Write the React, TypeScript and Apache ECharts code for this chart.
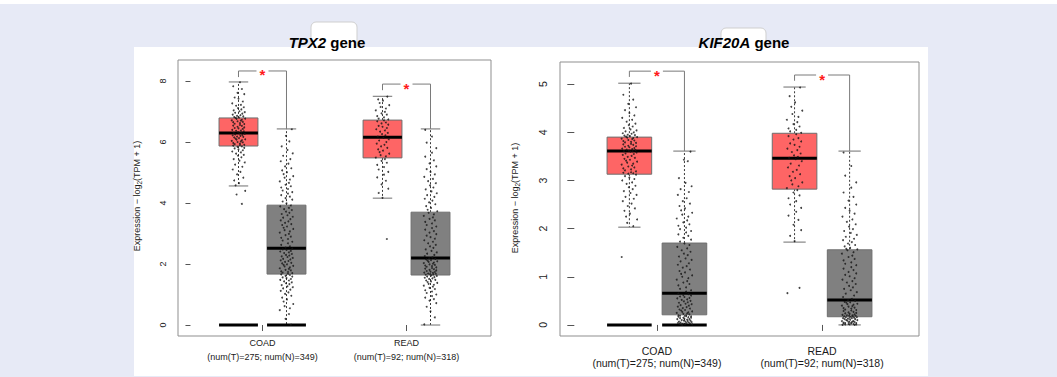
import React, { useEffect, useRef } from "react";
import * as echarts from "echarts";

// ---------- data ----------
const CATEGORIES = ["COAD", "READ"];
const SAMPLE_LABELS = ["(num(T)=275; num(N)=349)", "(num(T)=92; num(N)=318)"];
const CATEGORY_POS = [1.5, 4.5];
// COAD tumor, COAD normal, READ tumor, READ normal
const GROUP_POS = [1, 2, 4, 5];
const GROUP_TYPE = [0, 1, 0, 1];
const GENES = ["TPX2", "KIF20A"];
const Y_TITLE = ["Expression \u2212 log", "2", "(TPM + 1)"];

const TPX2_TICKS = [0, 2, 4, 6, 8];
const KIF20A_TICKS = [0, 1, 2, 3, 4, 5];

// [whisker low, Q1, median, Q3, whisker high]
const TPX2_STATS = [
  [4.56, 5.87, 6.3, 6.79, 7.97],
  [0, 1.67, 2.52, 3.93, 6.43],
  [4.16, 5.48, 6.16, 6.72, 7.5],
  [0, 1.64, 2.2, 3.7, 6.43],
];
const KIF20A_STATS = [
  [2.03, 3.13, 3.61, 3.9, 5.02],
  [0, 0.21, 0.66, 1.7, 3.61],
  [1.72, 2.82, 3.46, 3.98, 4.94],
  [0, 0.17, 0.52, 1.56, 3.61],
];
// thick bar at zero
const TPX2_ZERO = [1, 1, 0, 0];
const KIF20A_ZERO = [1, 1, 0, 0];

// [x tumor, x normal, bracket y, left end y, right end y]
const TPX2_BRACKETS = [
  [1, 2, 8.33, 8.13, 6.43],
  [4, 5, 7.9, 7.7, 6.43],
];
const KIF20A_BRACKETS = [
  [1, 2, 5.27, 5.15, 3.61],
  [4, 5, 5.19, 5.07, 3.61],
];

// horizontal jitter offsets (category units)
const JITTER = [0.03, -0.11, 0.07, -0.02, 0.12, -0.08, 0.0, 0.09, -0.13, 0.05, -0.05, 0.11, -0.01, 0.06, -0.1, 0.02, 0.13, -0.07, 0.08, -0.12, 0.04, -0.03, 0.1, -0.09, 0.01, -0.06, 0.14, -0.04, 0.07, -0.14, 0.05, -0.02, 0.09, -0.11, 0.03, -0.08, 0.12];

const TPX2_COAD_T = [7.96, 7.83, 7.74, 7.61, 7.57, 7.46, 7.42, 7.33, 7.27, 7.22, 7.19, 7.14, 7.11, 7.07, 7.04, 7.01, 6.98, 6.96, 6.93, 6.9, 6.88, 6.86, 6.84, 6.82, 6.8,
  6.79, 6.77, 6.76, 6.73, 6.71, 6.7, 6.68, 6.66, 6.65, 6.62, 6.6, 6.59, 6.56, 6.54, 6.53, 6.5, 6.48, 6.46, 6.45, 6.43, 6.4, 6.38, 6.37, 6.35, 6.33, 6.31,
  6.3, 6.28, 6.27, 6.25, 6.23, 6.22, 6.2, 6.18, 6.17, 6.15, 6.13, 6.11, 6.09, 6.08, 6.06, 6.04, 6.02, 6.0, 5.99, 5.97, 5.95, 5.93, 5.91, 5.9, 5.88,
  5.86, 5.84, 5.81, 5.79, 5.76, 5.73, 5.69, 5.66, 5.62, 5.58, 5.55, 5.5, 5.44, 5.39, 5.33, 5.26, 5.19, 5.1, 5.02, 4.94, 4.83, 4.74, 4.65, 4.58, 4.4, 4.28, 3.97];
const TPX2_COAD_N = [6.42, 6.2, 6.02, 5.86, 5.74, 5.63, 5.55, 5.44, 5.37, 5.29, 5.2, 5.14, 5.07, 5.01, 4.95, 4.88, 4.83, 4.77, 4.71, 4.66, 4.6, 4.55, 4.51, 4.46, 4.41, 4.36, 4.31, 4.26, 4.21, 4.16, 4.11, 4.05, 3.99,
  3.92, 3.89, 3.84, 3.8, 3.77, 3.72, 3.68, 3.64, 3.6, 3.55, 3.52, 3.47, 3.43, 3.4, 3.35, 3.31, 3.28, 3.23, 3.19, 3.15, 3.11, 3.07, 3.03, 2.99, 2.95, 2.9, 2.86, 2.82, 2.77, 2.73, 2.68, 2.63, 2.58, 2.54,
  2.51, 2.48, 2.46, 2.43, 2.41, 2.38, 2.36, 2.33, 2.3, 2.28, 2.25, 2.23, 2.2, 2.17, 2.15, 2.12, 2.1, 2.07, 2.04, 2.02, 1.99, 1.97, 1.94, 1.92, 1.89, 1.86, 1.84, 1.81, 1.79, 1.76, 1.74, 1.72, 1.7, 1.68,
  1.66, 1.64, 1.61, 1.59, 1.56, 1.54, 1.51, 1.48, 1.46, 1.43, 1.4, 1.37, 1.34, 1.31, 1.27, 1.24, 1.2, 1.16, 1.12, 1.07, 1.02, 0.96, 0.9, 0.84, 0.77, 0.69, 0.62, 0.55, 0.49, 0.36, 0.2, 0.01];
const TPX2_READ_T = [7.49, 7.4, 7.36, 7.28, 7.21, 7.15, 7.1, 7.04, 6.99, 6.94, 6.9, 6.85, 6.81, 6.77, 6.74,
  6.71, 6.68, 6.64, 6.61, 6.57, 6.53, 6.5, 6.46, 6.42, 6.38, 6.34, 6.3, 6.26, 6.22, 6.18,
  6.14, 6.09, 6.05, 6.0, 5.95, 5.91, 5.86, 5.81, 5.76, 5.72, 5.67, 5.62, 5.57, 5.53, 5.49,
  5.44, 5.38, 5.32, 5.25, 5.18, 5.1, 5.02, 4.93, 4.84, 4.73, 4.61, 4.47, 4.33, 4.17, 2.82];
const TPX2_READ_N = [6.4, 6.18, 5.98, 5.8, 5.65, 5.52, 5.4, 5.3, 5.2, 5.11, 5.02, 4.94, 4.86, 4.79, 4.72, 4.65, 4.58, 4.51, 4.45, 4.38, 4.32, 4.26, 4.2, 4.14, 4.08, 4.02, 3.96, 3.9, 3.84, 3.78, 3.73,
  3.68, 3.63, 3.58, 3.53, 3.48, 3.43, 3.38, 3.33, 3.28, 3.23, 3.18, 3.13, 3.08, 3.03, 2.98, 2.93, 2.88, 2.83, 2.78, 2.73, 2.68, 2.63, 2.58, 2.53, 2.48, 2.43, 2.38, 2.34, 2.3, 2.26, 2.22,
  2.19, 2.17, 2.15, 2.13, 2.11, 2.09, 2.07, 2.05, 2.03, 2.01, 1.99, 1.97, 1.95, 1.93, 1.91, 1.89, 1.87, 1.85, 1.83, 1.81, 1.79, 1.77, 1.75, 1.74, 1.72, 1.71, 1.69, 1.68, 1.67, 1.66, 1.65,
  1.63, 1.61, 1.59, 1.57, 1.55, 1.53, 1.51, 1.48, 1.46, 1.43, 1.41, 1.38, 1.35, 1.32, 1.29, 1.26, 1.22, 1.18, 1.14, 1.1, 1.05, 1.0, 0.95, 0.9, 0.85, 0.8, 0.72, 0.6, 0.45, 0.25, 0.02];

const KIF20A_COAD_T = [5.01, 4.78, 4.68, 4.59, 4.52, 4.46, 4.4, 4.35, 4.3, 4.26, 4.22, 4.18, 4.15, 4.12, 4.09, 4.06, 4.04, 4.02, 4.0, 3.98, 3.97, 3.95, 3.94, 3.93, 3.92, 3.91,
  3.9, 3.89, 3.88, 3.87, 3.86, 3.84, 3.83, 3.82, 3.8, 3.79, 3.78, 3.76, 3.75, 3.74, 3.72, 3.71, 3.7, 3.69, 3.67, 3.66, 3.65, 3.64, 3.63, 3.62, 3.61, 3.61,
  3.6, 3.58, 3.56, 3.55, 3.53, 3.51, 3.49, 3.47, 3.45, 3.43, 3.41, 3.39, 3.37, 3.35, 3.33, 3.31, 3.29, 3.27, 3.25, 3.23, 3.21, 3.19, 3.17, 3.16, 3.15, 3.14,
  3.12, 3.09, 3.06, 3.03, 3.0, 2.96, 2.93, 2.89, 2.86, 2.82, 2.78, 2.74, 2.7, 2.66, 2.62, 2.57, 2.52, 2.47, 2.42, 2.37, 2.31, 2.25, 2.19, 2.12, 2.05, 1.41];
const KIF20A_COAD_N = [3.6, 3.43, 3.4, 3.05, 2.95, 2.88, 2.82, 2.76, 2.7, 2.63, 2.57, 2.52, 2.47, 2.42, 2.38, 2.33, 2.29, 2.25, 2.21, 2.17, 2.13, 2.09, 2.06, 2.02, 1.99, 1.95, 1.92, 1.88, 1.85, 1.81, 1.77, 1.73,
  1.69, 1.66, 1.62, 1.59, 1.55, 1.52, 1.48, 1.45, 1.42, 1.38, 1.35, 1.32, 1.28, 1.25, 1.22, 1.19, 1.15, 1.12, 1.09, 1.06, 1.03, 1.0, 0.97, 0.94, 0.91, 0.88, 0.85, 0.82, 0.78, 0.75, 0.72, 0.69,
  0.65, 0.64, 0.62, 0.61, 0.59, 0.58, 0.56, 0.55, 0.53, 0.52, 0.5, 0.49, 0.47, 0.46, 0.44, 0.43, 0.41, 0.4, 0.38, 0.37, 0.35, 0.34, 0.32, 0.31, 0.3, 0.28, 0.27, 0.26, 0.25, 0.24, 0.23, 0.22,
  0.2, 0.2, 0.19, 0.18, 0.18, 0.17, 0.16, 0.15, 0.15, 0.14, 0.13, 0.12, 0.12, 0.11, 0.1, 0.09, 0.09, 0.08, 0.07, 0.07, 0.06, 0.05, 0.05, 0.04, 0.04, 0.03, 0.03, 0.02, 0.02, 0.01, 0.01, 0.0];
const KIF20A_READ_T = [4.93, 4.75, 4.62, 4.53, 4.45, 4.38, 4.32, 4.26, 4.21, 4.17, 4.12, 4.08, 4.05, 4.02, 3.99,
  3.96, 3.92, 3.88, 3.85, 3.81, 3.77, 3.74, 3.7, 3.66, 3.63, 3.59, 3.56, 3.52, 3.49, 3.47,
  3.44, 3.4, 3.35, 3.31, 3.27, 3.22, 3.18, 3.13, 3.09, 3.05, 3.0, 2.96, 2.92, 2.88, 2.84,
  2.8, 2.75, 2.69, 2.63, 2.57, 2.5, 2.43, 2.35, 2.27, 2.18, 2.08, 1.97, 1.85, 1.74, 0.77, 0.66];
const KIF20A_READ_N = [3.58, 3.3, 3.1, 2.96, 2.85, 2.75, 2.66, 2.58, 2.5, 2.43, 2.37, 2.31, 2.25, 2.19, 2.14, 2.09, 2.04, 1.99, 1.95, 1.91, 1.87, 1.83, 1.79, 1.76, 1.72, 1.69, 1.66, 1.63, 1.6, 1.58, 1.57,
  1.55, 1.51, 1.48, 1.44, 1.41, 1.37, 1.34, 1.3, 1.27, 1.24, 1.2, 1.17, 1.14, 1.1, 1.07, 1.04, 1.01, 0.97, 0.94, 0.91, 0.88, 0.85, 0.81, 0.78, 0.75, 0.72, 0.68, 0.65, 0.61, 0.58, 0.54,
  0.51, 0.5, 0.48, 0.47, 0.46, 0.44, 0.43, 0.42, 0.4, 0.39, 0.38, 0.36, 0.35, 0.34, 0.32, 0.31, 0.3, 0.29, 0.27, 0.26, 0.25, 0.24, 0.23, 0.22, 0.21, 0.2, 0.2, 0.19, 0.19, 0.18, 0.18,
  0.17, 0.16, 0.16, 0.15, 0.14, 0.14, 0.13, 0.12, 0.12, 0.11, 0.1, 0.1, 0.09, 0.08, 0.08, 0.07, 0.06, 0.06, 0.05, 0.05, 0.04, 0.04, 0.03, 0.03, 0.02, 0.02, 0.01, 0.01, 0.01, 0.0, 0.0];

// ---------- style ----------
const FONT = "'Liberation Sans', Arial, Helvetica, sans-serif";
const BG = "#e7eaf6";
const RED = "#fe6565";
const GRAY = "#808080";
const BOX_BORDER = "#6e6e6e";
const WHISKER = "#3a3a3a";
const CAP = "#6e6e6e";
const FRAME = "#8f8f8f";
const TICK = "#555";
const BOX_W = 0.81;
const X_MIN = -0.26;
const X_MAX = 6.26;

function buildPoints(groups: number[][]) {
  const out: number[][] = [];
  groups.forEach((vals, g) => {
    vals.forEach((v, i) => {
      out.push([GROUP_POS[g] + JITTER[(i + g * 11) % JITTER.length], v]);
    });
  });
  return out;
}

function boxSeries(stats: number[][], zero: number[], gi: number) {
  return {
    type: "custom",
    xAxisIndex: gi,
    yAxisIndex: gi,
    z: 2,
    silent: true,
    data: stats.map((s, g) => [GROUP_POS[g], s[0], s[1], s[2], s[3], s[4], GROUP_TYPE[g], zero[g]]),
    renderItem: (params: any, api: any) => {
      const x = api.value(0);
      const c = (y: number) => api.coord([x, y]);
      const pLow = c(api.value(1));
      const pQ1 = c(api.value(2));
      const pMed = c(api.value(3));
      const pQ3 = c(api.value(4));
      const pHigh = c(api.value(5));
      const normal = api.value(6);
      const zf = api.value(7);
      const w = api.size([BOX_W, 0])[0];
      const cx = pMed[0];
      const dash = { stroke: WHISKER, lineWidth: 1, lineDash: [2, 2] };
      const children: any[] = [
        { type: "line", shape: { x1: cx, y1: pQ3[1], x2: cx, y2: pHigh[1] }, style: dash },
        { type: "line", shape: { x1: cx, y1: pQ1[1], x2: cx, y2: pLow[1] }, style: dash },
        { type: "line", shape: { x1: cx - w / 4, y1: pHigh[1], x2: cx + w / 4, y2: pHigh[1] }, style: { stroke: CAP, lineWidth: 1 } },
        { type: "line", shape: { x1: cx - w / 4, y1: pLow[1], x2: cx + w / 4, y2: pLow[1] }, style: { stroke: CAP, lineWidth: 1 } },
        { type: "rect", shape: { x: cx - w / 2, y: pQ3[1], width: w, height: pQ1[1] - pQ3[1] }, style: { fill: normal ? GRAY : RED, stroke: BOX_BORDER, lineWidth: 1 } },
        { type: "line", shape: { x1: cx - w / 2, y1: pMed[1], x2: cx + w / 2, y2: pMed[1] }, style: { stroke: "#000", lineWidth: 3 } },
      ];
      if (zf) {
        const p0 = c(0);
        children.push({ type: "line", shape: { x1: cx - w / 2, y1: p0[1], x2: cx + w / 2, y2: p0[1] }, style: { stroke: "#000", lineWidth: 3 } });
      }
      return { type: "group", children };
    },
  };
}

function bracketSeries(brackets: number[][], gi: number) {
  return {
    type: "custom",
    xAxisIndex: gi,
    yAxisIndex: gi,
    z: 4,
    silent: true,
    data: brackets,
    renderItem: (params: any, api: any) => {
      const xa = api.value(0);
      const xb = api.value(1);
      const y = api.value(2);
      const pA = api.coord([xa, y]);
      const pB = api.coord([xb, y]);
      const pAe = api.coord([xa, api.value(3)]);
      const pBe = api.coord([xb, api.value(4)]);
      const mid = (pA[0] + pB[0]) / 2;
      const gap = 6;
      const ls = { stroke: "#7a7a7a", lineWidth: 1, fill: "none" };
      return {
        type: "group",
        children: [
          { type: "polyline", shape: { points: [[pAe[0], pAe[1]], [pA[0], pA[1]], [mid - gap, pA[1]]] }, style: ls },
          { type: "polyline", shape: { points: [[mid + gap, pB[1]], [pB[0], pB[1]], [pBe[0], pBe[1]]] }, style: ls },
          { type: "text", x: mid, y: pA[1] + 4, style: { text: "*", fill: "#ff1a1a", fontSize: 15, fontWeight: "bold", fontFamily: FONT, align: "center", verticalAlign: "middle" } },
        ],
      };
    },
  };
}

function xAxis(gi: number, fontSize: number, lineHeight: number, margin: number) {
  return {
    type: "value",
    gridIndex: gi,
    min: X_MIN,
    max: X_MAX,
    axisLine: { show: false },
    splitLine: { show: false },
    axisTick: { show: true, length: 6, lineStyle: { color: TICK }, customValues: CATEGORY_POS },
    axisLabel: {
      show: true,
      customValues: CATEGORY_POS,
      fontSize,
      lineHeight,
      margin,
      color: "#1a1a1a",
      fontFamily: FONT,
      formatter: (v: number) => {
        const i = CATEGORY_POS.indexOf(v);
        return i < 0 ? "" : CATEGORIES[i] + "\n" + SAMPLE_LABELS[i];
      },
    },
  };
}

function yAxis(gi: number, min: number, max: number, ticks: number[], fontSize: number, tickLen: number, margin: number) {
  return {
    type: "value",
    gridIndex: gi,
    min,
    max,
    axisLine: { show: false },
    splitLine: { show: false },
    axisTick: { show: true, length: tickLen, lineStyle: { color: TICK }, customValues: ticks },
    axisLabel: { show: true, customValues: ticks, rotate: 90, fontSize, margin, color: "#1a1a1a", fontFamily: FONT },
  };
}

function titleText(x: number, gene: string) {
  return {
    type: "text",
    x,
    y: 42,
    z: 10,
    style: {
      text: "{i|" + gene + "}{n| gene}",
      align: "center",
      verticalAlign: "middle",
      fill: "#000",
      rich: {
        i: { fontSize: 15, fontWeight: "bold", fontStyle: "italic", fontFamily: FONT, fill: "#000" },
        n: { fontSize: 15, fontWeight: "bold", fontFamily: FONT, fill: "#000" },
      },
    },
  };
}

function yName(x: number, y: number) {
  return {
    type: "text",
    x,
    y,
    rotation: Math.PI / 2,
    z: 10,
    style: {
      text: "{a|" + Y_TITLE[0] + "}{s|" + Y_TITLE[1] + "}{a|" + Y_TITLE[2] + "}",
      align: "center",
      verticalAlign: "middle",
      rich: {
        a: { fontSize: 9, lineHeight: 12, fontFamily: FONT, fill: "#1a1a1a" },
        s: { fontSize: 6.5, lineHeight: 6, verticalAlign: "bottom", fontFamily: FONT, fill: "#1a1a1a" },
      },
    },
  };
}

export default function App() {
  const ref = useRef<HTMLDivElement>(null);
  useEffect(() => {
    if (!ref.current) return;
    const chart = echarts.init(ref.current, undefined, { renderer: "svg" });
    const option: any = {
      animation: false,
      backgroundColor: BG,
      textStyle: { fontFamily: FONT },
      grid: [
        { left: 178, top: 60, width: 313, height: 276, show: true, borderColor: FRAME, borderWidth: 1, backgroundColor: "rgba(0,0,0,0)", z: 1 },
        { left: 560, top: 62, width: 359, height: 274, show: true, borderColor: FRAME, borderWidth: 1, backgroundColor: "rgba(0,0,0,0)", z: 1 },
      ],
      xAxis: [xAxis(0, 9, 14, 0), xAxis(1, 10.5, 12, 9)],
      yAxis: [
        yAxis(0, -0.36, 8.69, TPX2_TICKS, 9, 5, 11),
        yAxis(1, -0.23, 5.46, KIF20A_TICKS, 10.5, 7, 12),
      ],
      series: [
        boxSeries(TPX2_STATS, TPX2_ZERO, 0),
        boxSeries(KIF20A_STATS, KIF20A_ZERO, 1),
        {
          type: "scatter",
          xAxisIndex: 0,
          yAxisIndex: 0,
          z: 3,
          silent: true,
          symbol: "circle",
          symbolSize: 1.9,
          itemStyle: { color: "#151515" },
          data: buildPoints([TPX2_COAD_T, TPX2_COAD_N, TPX2_READ_T, TPX2_READ_N]),
        },
        {
          type: "scatter",
          xAxisIndex: 1,
          yAxisIndex: 1,
          z: 3,
          silent: true,
          symbol: "circle",
          symbolSize: 1.9,
          itemStyle: { color: "#151515" },
          data: buildPoints([KIF20A_COAD_T, KIF20A_COAD_N, KIF20A_READ_T, KIF20A_READ_N]),
        },
        bracketSeries(TPX2_BRACKETS, 0),
        bracketSeries(KIF20A_BRACKETS, 1),
      ],
      graphic: [
        { type: "rect", z: 0, shape: { x: 0, y: 0, width: 1057, height: 4 }, style: { fill: "#ffffff" } },
        { type: "rect", z: 0, shape: { x: 311, y: 22, width: 46, height: 40, r: 5 }, style: { fill: "#ffffff", stroke: "#cfcfcf", lineWidth: 1 } },
        { type: "rect", z: 0, shape: { x: 721, y: 28, width: 45, height: 40, r: 5 }, style: { fill: "#ffffff", stroke: "#cfcfcf", lineWidth: 1 } },
        { type: "rect", z: 0, shape: { x: 134, y: 47, width: 794, height: 329 }, style: { fill: "#ffffff" } },
        titleText(327, GENES[0]),
        titleText(744, GENES[1]),
        yName(137, 196),
        yName(515, 198),
      ],
    };
    chart.setOption(option);
    return () => chart.dispose();
  }, []);
  return <div ref={ref} style={{ position: "fixed", left: 0, top: 0, width: 1057, height: 377 }} />;
}
